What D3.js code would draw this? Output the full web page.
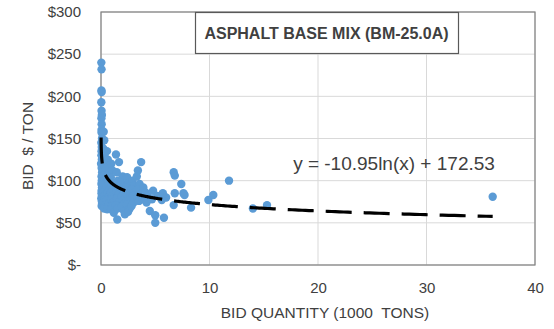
<!DOCTYPE html>
<html>
<head>
<meta charset="utf-8">
<script src="https://cdn.jsdelivr.net/npm/d3@7"></script>
<style>
  body { margin: 0; background: #fff; }
  text { font-family: "Liberation Sans", Arial, sans-serif; fill: #404040; }
</style>
</head>
<body>
<div id="chart"></div>
<script>
// bid quantity in 1000 tons, bid price in $/ton
const quantity = [
  0.007, 0.03, 0.05, 0.04, 0.06, 0.03, 0.05, 0.08, 0.04, 0.06, 0.05, 0.09, 0.03, 0.07, 0.05, 0.04, 0.08, 0.06, 0.1, 0.05, 0.07, 0.04, 0.09, 0.06, 0.05, 0.08, 0.03, 0.07, 0.1, 0.06, 0.05,
  0.25, 0.3, 0.22, 0.35, 0.28, 0.4, 0.24, 0.33, 0.27, 0.38, 0.21, 0.31, 0.36, 0.26, 0.34, 0.29,
  0.55, 0.62, 0.5, 0.7, 0.58, 0.66, 0.52, 0.75, 0.6, 0.68, 0.54, 0.72, 0.64, 0.57,
  0.95, 1.05, 0.9, 1.1, 1.0, 1.15, 0.92, 1.08, 0.98, 1.12, 1.02, 0.94, 1.18,
  1.38, 1.66, 1.45, 1.55, 1.35, 1.62, 1.42, 1.58, 1.48, 1.68, 1.36, 1.52, 1.5,
  2.0, 1.85, 2.1, 1.95, 2.15, 1.9, 2.05, 2.2, 1.88, 2.12, 2.2,
  2.4, 2.5, 2.35, 2.6, 2.45, 2.7, 2.55, 2.38, 2.65, 2.5,
  2.9, 3.05, 2.85, 3.15, 2.95, 3.1, 3.0, 2.82,
  3.7, 3.4, 3.3, 3.55, 3.45, 3.65, 3.35, 3.5,
  3.9, 4.1, 4.3, 3.85, 4.2, 4.5,
  4.8, 5.2, 5.0, 4.7, 5.0,
  5.7, 6.0, 5.6, 5.8,
  6.7, 6.8, 6.8, 6.7,
  7.4, 7.6, 7.7, 8.3,
  9.9, 10.35, 11.8, 14.0, 15.3, 36.1
];
const price = [
  120, 240, 232, 207, 205, 193, 183, 178, 174, 167, 160, 150, 145, 140, 135, 130, 125, 115, 110, 105, 100, 96, 92, 88, 85, 82, 79, 76, 73, 70, 157,
  158, 148, 138, 128, 118, 112, 106, 100, 95, 90, 86, 82, 78, 74, 70, 67,
  135, 125, 115, 108, 102, 97, 93, 89, 85, 81, 77, 73, 69, 66,
  120, 112, 104, 98, 94, 90, 86, 82, 78, 74, 70, 66, 62,
  131, 122, 110, 100, 95, 91, 87, 83, 79, 75, 71, 67, 54,
  105, 98, 93, 89, 85, 81, 77, 73, 69, 64, 60,
  104, 97, 92, 88, 84, 80, 76, 72, 67, 63,
  100, 94, 90, 86, 82, 78, 74, 70,
  122, 112, 105, 96, 90, 84, 80, 76,
  92, 86, 82, 78, 74, 64,
  88, 82, 59, 78, 50,
  85, 80, 77, 56,
  110, 106, 85, 71,
  96, 85, 83, 68,
  77, 83, 100, 67, 71, 81
];
const xTicks = [0, 10, 20, 30, 40];
const yTicks = [0, 50, 100, 150, 200, 250, 300];
const trendA = -10.95, trendB = 172.53; // y = a ln(x) + b, x in tons

const width = 554, height = 329;
const margin = { left: 101, right: 19, top: 12, bottom: 64 };

const svg = d3.select("#chart").append("svg")
  .attr("width", width).attr("height", height);

const x = d3.scaleLinear().domain([0, 40]).range([margin.left, width - margin.right]);
const y = d3.scaleLinear().domain([0, 300]).range([height - margin.bottom, margin.top]);

// gridlines
svg.append("g").selectAll("line.h").data(yTicks).enter().append("line")
  .attr("x1", x(0)).attr("x2", x(40))
  .attr("y1", d => y(d)).attr("y2", d => y(d))
  .attr("stroke", "#d9d9d9").attr("stroke-width", 1);
svg.append("g").selectAll("line.v").data(xTicks).enter().append("line")
  .attr("x1", d => x(d)).attr("x2", d => x(d))
  .attr("y1", y(0)).attr("y2", y(300))
  .attr("stroke", "#d9d9d9").attr("stroke-width", 1);

// plot frame
svg.append("rect")
  .attr("x", x(0)).attr("y", y(300))
  .attr("width", x(40) - x(0)).attr("height", y(0) - y(300))
  .attr("fill", "none").attr("stroke", "#808080").attr("stroke-width", 1.2);

// axes (labels only)
const xAxis = svg.append("g").attr("transform", `translate(0,${y(0)})`)
  .call(d3.axisBottom(x).tickValues(xTicks).tickSize(0).tickPadding(17));
const yAxis = svg.append("g").attr("transform", `translate(${x(0)},0)`)
  .call(d3.axisLeft(y).tickValues(yTicks).tickSize(0).tickPadding(20)
    .tickFormat(d => d === 0 ? "$-" : "$" + d));
[xAxis, yAxis].forEach(g => {
  g.select(".domain").remove();
  g.selectAll("text").attr("font-size", 15).attr("fill", "#404040")
    .attr("font-family", "Liberation Sans, Arial, sans-serif");
});

// points
const data = quantity.map((q, i) => ({ q: q, p: price[i] }));
svg.append("g").selectAll("circle").data(data).enter().append("circle")
  .attr("cx", d => x(d.q)).attr("cy", d => y(d.p)).attr("r", 4.2)
  .attr("fill", "#5b9bd5");

// logarithmic trendline
const qMin = d3.min(quantity), qMax = d3.max(quantity);
const trendPts = d3.range(0, 1.0001, 0.002).map(t => {
  const q = qMin * Math.pow(qMax / qMin, t);
  return [q, trendA * Math.log(q * 1000) + trendB];
});
svg.append("path")
  .datum(trendPts)
  .attr("d", d3.line().x(d => x(d[0])).y(d => y(d[1])))
  .attr("fill", "none").attr("stroke", "#000").attr("stroke-width", 3.2)
  .attr("stroke-dasharray", "26,12");

// equation
svg.append("text")
  .attr("x", 394).attr("y", 170).attr("text-anchor", "middle")
  .attr("font-size", 19).attr("fill", "#262626")
  .text("y = -10.95ln(x) + 172.53");

// title box
svg.append("rect").attr("x", 195.5).attr("y", 12.5).attr("width", 263).attr("height", 41)
  .attr("fill", "#fff").attr("stroke", "#595959").attr("stroke-width", 1.2);
svg.append("text")
  .attr("x", 326.5).attr("y", 39).attr("text-anchor", "middle")
  .attr("font-size", 16).attr("font-weight", "bold").attr("fill", "#000")
  .text("ASPHALT BASE MIX (BM-25.0A)");

// axis titles
svg.append("text")
  .attr("x", x(20) + 7).attr("y", 318).attr("text-anchor", "middle")
  .attr("font-size", 15.5).attr("fill", "#404040")
  .style("white-space", "pre")
  .text("BID QUANTITY (1000  TONS)");
svg.append("text")
  .attr("transform", `translate(33,146) rotate(-90)`).attr("text-anchor", "middle")
  .attr("font-size", 15.5).attr("fill", "#404040")
  .style("white-space", "pre")
  .text("BID  $ / TON");
</script>
</body>
</html>
